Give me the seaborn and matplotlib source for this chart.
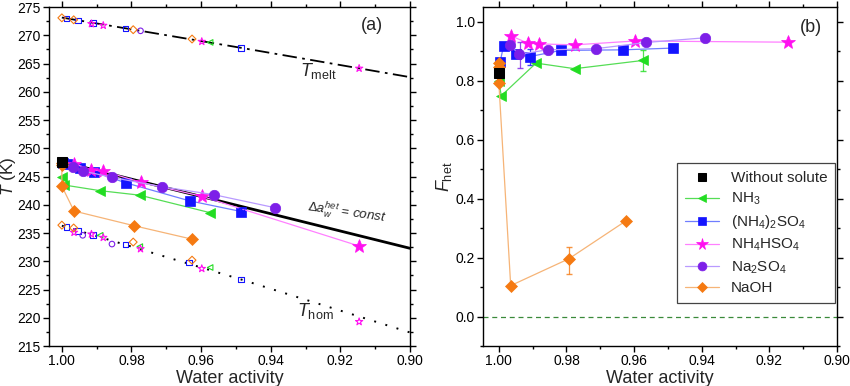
import numpy as np
import pandas as pd
import matplotlib
matplotlib.use('Agg')
import matplotlib.pyplot as plt
from matplotlib.ticker import MultipleLocator, FormatStrFormatter
import seaborn as sns

# Reference curves (left panel)
melt_line_aw = [1.0, 0.9486, 0.90]
melt_line_T = [273.15, 267.8, 262.6]
hom_line_aw = [1.0, 0.9486, 0.90]
hom_line_T = [236.3, 226.8, 217.4]
const_line_aw = [1.0, 0.90]
const_line_T = [247.6, 232.3]

# Without solute
pure_aw = [1.0]
pure_T = [247.6]
pure_F = [0.828]

# NH3
nh3_aw = [1.0, 0.9993, 0.989, 0.9776, 0.9574]
nh3_T = [244.9, 243.5, 242.5, 241.7, 238.6]
nh3_F = [0.80, 0.749, 0.860, 0.841, 0.869]

# (NH4)2SO4
as_aw = [0.9996, 0.9986, 0.9948, 0.9909, 0.9817, 0.9633, 0.9484]
as_T = [247.4, 247.2, 246.45, 245.85, 243.9, 240.7, 238.8]
as_F = [0.865, 0.919, 0.890, 0.882, 0.903, 0.905, 0.911]

# NH4HSO4
ahs_aw = [0.9965, 0.9915, 0.9881, 0.9774, 0.9598, 0.9146]
ahs_T = [247.3, 246.15, 246.0, 244.0, 241.5, 232.7]
ahs_F = [0.953, 0.928, 0.925, 0.922, 0.935, 0.931]

# Na2SO4
ns_aw = [0.9967, 0.994, 0.9856, 0.9713, 0.9564, 0.9389]
ns_T = [246.7, 246.0, 244.85, 243.2, 241.8, 239.5]
ns_F = [0.921, 0.890, 0.905, 0.909, 0.930, 0.946]

# NaOH
naoh_aw = [1.0, 1.0, 1.0, 0.9965, 0.9793, 0.9625]
naoh_T = [247.4, 247.0, 243.3, 238.9, 236.3, 233.9]
naoh_F = [0.862, 0.848, 0.792, 0.105, 0.196, 0.324]

# open symbols on the melting and homogeneous freezing curves
melt_pts = {
    'nh3': ([0.9574], [268.75]),
    'as': ([0.9986, 0.9953, 0.991, 0.9817, 0.9486], [273.0, 272.6, 272.2, 271.2, 267.8]),
    'ahs': ([0.9915, 0.9881, 0.9598, 0.9146], [272.05, 271.75, 268.9, 264.15]),
    'ns': ([0.9774], [270.8]),
    'naoh': ([1.0, 0.9966, 0.9795, 0.9626], [273.1, 272.75, 271.0, 269.35]),
}
hom_pts = {
    'nh3': ([0.989, 0.9776, 0.9574], [234.6, 232.6, 228.9]),
    'as': ([0.9986, 0.9953, 0.991, 0.9817, 0.9634, 0.9486], [236.1, 235.4, 234.7, 233.0, 229.8, 226.8]),
    'ahs': ([0.9965, 0.9915, 0.9881, 0.9774, 0.9598, 0.9146], [235.1, 234.8, 234.2, 232.2, 228.7, 219.3]),
    'ns': ([0.994, 0.9856], [234.6, 233.05]),
    'naoh': ([1.0, 0.9966, 0.9795, 0.9626], [236.4, 235.9, 233.4, 230.2]),
}

# error bars
err_b_aw = [0.9938, 0.9909, 0.9574, 0.9793]
err_b_F = [0.887, 0.880, 0.869, 0.190]
err_b_dF = [0.043, 0.027, 0.035, 0.047]
err_b_col = ['ns', 'as', 'nh3', 'naoh']

series = {
    'nh3': dict(aw=nh3_aw, T=nh3_T, F=nh3_F, label='NH$_3$', m='<', ms=7.5,
                c='#22dd22', lc='#55dd55'),
    'as': dict(aw=as_aw, T=as_T, F=as_F, label='(NH$_4$)$_2$SO$_4$', m='s', ms=6.5,
               c='#1414ff', lc='#6f7dff'),
    'ahs': dict(aw=ahs_aw, T=ahs_T, F=ahs_F, label='NH$_4$HSO$_4$', m='*', ms=10,
                c='#ff10f0', lc='#ff80ff'),
    'ns': dict(aw=ns_aw, T=ns_T, F=ns_F, label='Na$_2$SO$_4$', m='o', ms=7.5,
               c='#7d1fe8', lc='#b99aff'),
    'naoh': dict(aw=naoh_aw, T=naoh_T, F=naoh_F, label='NaOH', m='D', ms=6.5,
                 c='#f57a12', lc='#f6b477'),
}

sns.set_theme(style='ticks')
plt.rcParams['font.family'] = ['Liberation Sans', 'DejaVu Sans']
plt.rcParams['mathtext.fontset'] = 'custom'
plt.rcParams['mathtext.rm'] = 'Liberation Sans'
plt.rcParams['mathtext.it'] = 'Liberation Sans:italic'
plt.rcParams['axes.linewidth'] = 1.0
plt.rcParams['axes.edgecolor'] = 'black'

fig = plt.figure(figsize=(8.5, 3.86), dpi=100)
axa = fig.add_axes([0.0576, 0.1036, 0.4247, 0.878])
axb = fig.add_axes([0.5682, 0.1036, 0.4165, 0.878])


def style_axis(ax):
    ax.tick_params(which='both', direction='out', top=True, right=True,
                   colors='black', labelsize=10, width=1.0, pad=2)
    ax.tick_params(which='major', length=4)
    ax.tick_params(which='minor', length=2.2)
    ax.xaxis.set_major_locator(MultipleLocator(0.02))
    ax.xaxis.set_minor_locator(MultipleLocator(0.01))
    ax.xaxis.set_major_formatter(FormatStrFormatter('%.2f'))
    for s in ax.spines.values():
        s.set_visible(True)
        s.set_color('black')
    ax.set_xlabel('Water activity', fontsize=13, labelpad=1)


# ---- panel (a) ----
sns.lineplot(x=melt_line_aw, y=melt_line_T, ax=axa, color='black', lw=1.3,
             linestyle=(0, (8, 3, 1.5, 3)), sort=False, estimator=None)
sns.lineplot(x=hom_line_aw, y=hom_line_T, ax=axa, color='black', lw=1.4,
             linestyle=(0, (1, 5)), sort=False, estimator=None)
sns.lineplot(x=const_line_aw, y=const_line_T, ax=axa, color='black', lw=2,
             sort=False, estimator=None)

for key, s in series.items():
    for pts in (melt_pts[key], hom_pts[key]):
        sns.scatterplot(x=pts[0], y=pts[1], ax=axa, marker=s['m'], s=16 if s['m'] != '*' else 30,
                        facecolor='none', edgecolor=s['c'], linewidth=0.8, color=s['c'], zorder=4)

for key, s in series.items():
    sns.lineplot(x=s['aw'], y=s['T'], ax=axa, color=s['lc'], lw=0.9, marker=s['m'],
                 ms=s['ms'], mfc=s['c'], mec=s['c'], mew=0.5, sort=False, estimator=None, zorder=5)
sns.lineplot(x=pure_aw, y=pure_T, ax=axa, color='black', marker='s', ms=6.5, mec='black',
             linestyle='', sort=False, estimator=None, zorder=6)
axa.errorbar([0.9484], [238.8], yerr=[0.6], xerr=[0.0008], fmt='none', ecolor='#1414ff',
             elinewidth=1, capsize=2, zorder=5)

axa.set_xlim(1.0037, 0.90)
axa.set_ylim(215, 275)
axa.yaxis.set_major_locator(MultipleLocator(5))
axa.yaxis.set_minor_locator(MultipleLocator(2.5))
style_axis(axa)
axa.set_ylabel('$T$ (K)', fontsize=12.5)
axa.yaxis.set_label_coords(-0.086, 0.5)
axa.text(0.9315, 263.6, '$T_{\\mathrm{melt}}$', fontsize=13, ha='left', va='center')
axa.text(0.9325, 221.2, '$T_{\\mathrm{hom}}$', fontsize=13, ha='left', va='center')
axa.text(0.9298, 238.4, '$\\Delta a_{w}^{het}$ = $const$', fontsize=9.5, ha='left',
         va='center', rotation=-8)
axa.text(0.895, 0.945, '(a)', transform=axa.transAxes, fontsize=13, ha='center', va='center')

# ---- panel (b) ----
axb.axhline(0, color='#3a8a3a', lw=0.9, linestyle=(0, (4, 3)))
for key, s in series.items():
    sns.lineplot(x=s['aw'], y=s['F'], ax=axb, color=s['lc'], lw=0.9, marker=s['m'],
                 ms=s['ms'], mfc=s['c'], mec=s['c'], mew=0.5, sort=False, estimator=None,
                 zorder=5, label=s['label'])
sns.lineplot(x=pure_aw, y=pure_F, ax=axb, color='black', marker='s', ms=6.5, mec='black',
             linestyle='', sort=False, estimator=None, zorder=6, label='Without solute')
for x, y, d, k in zip(err_b_aw, err_b_F, err_b_dF, err_b_col):
    axb.errorbar([x], [y], yerr=[d], fmt='none', ecolor=series[k]['c'], elinewidth=0.9,
                 capsize=2.5, alpha=0.8, zorder=4)

axb.set_xlim(1.0047, 0.90)
axb.set_ylim(-0.1, 1.05)
axb.yaxis.set_major_locator(MultipleLocator(0.2))
axb.yaxis.set_minor_locator(MultipleLocator(0.1))
axb.yaxis.set_major_formatter(FormatStrFormatter('%.1f'))
style_axis(axb)
axb.set_ylabel('$F_{\\mathrm{het}}$', fontsize=13)
axb.yaxis.set_label_coords(-0.082, 0.5)
axb.text(0.927, 0.941, '(b)', transform=axb.transAxes, fontsize=13, ha='center', va='center')

handles, labels = axb.get_legend_handles_labels()
order = [labels.index(l) for l in ['Without solute', 'NH$_3$', '(NH$_4$)$_2$SO$_4$',
                                   'NH$_4$HSO$_4$', 'Na$_2$SO$_4$', 'NaOH']]
leg = axb.legend([handles[i] for i in order], [labels[i] for i in order],
                 loc='lower right', bbox_to_anchor=(0.995, 0.127), fontsize=11,
                 frameon=True, fancybox=False, edgecolor='#444444', framealpha=1,
                 handlelength=2.2, labelspacing=0.38, borderpad=0.5, borderaxespad=0,
                 markerscale=0.85)
leg.get_frame().set_linewidth(0.9)

fig.savefig('out.png', dpi=100)
